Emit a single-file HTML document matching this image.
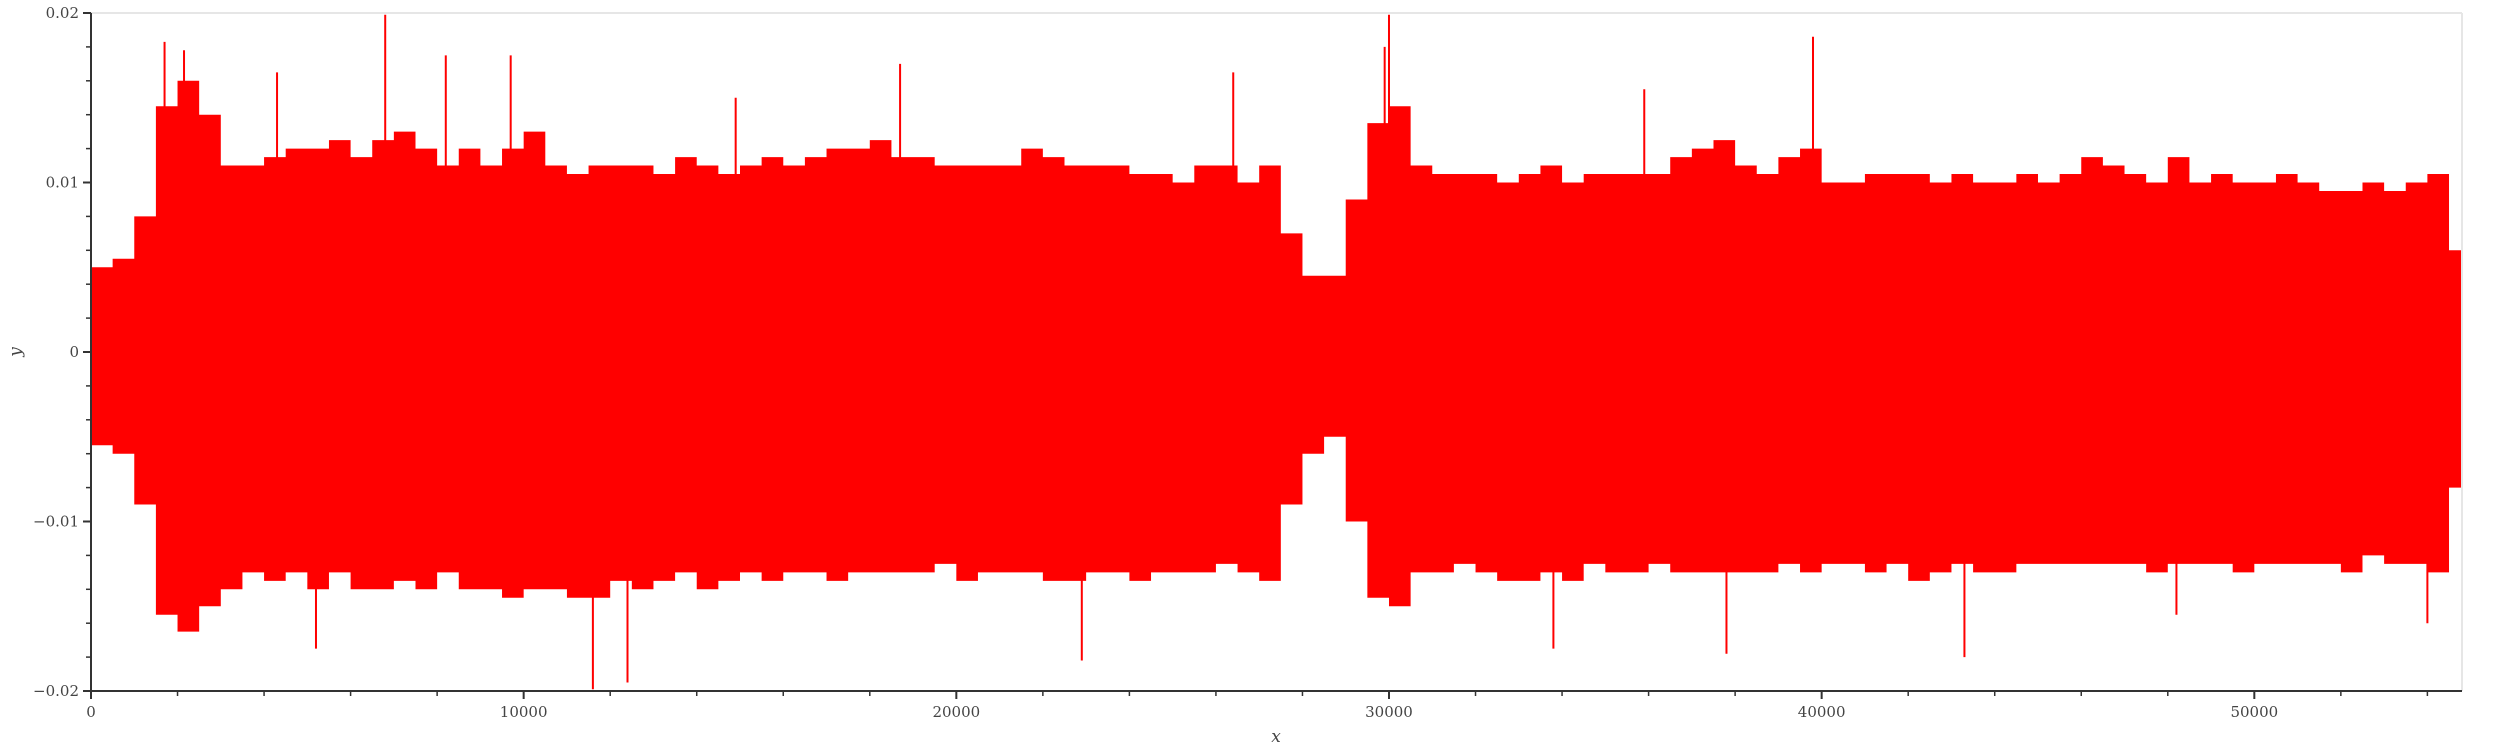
<!DOCTYPE html>
<html><head><meta charset="utf-8">
<style>
html,body{margin:0;padding:0;background:#fff;}
svg{display:block;}
text{font-family:"DejaVu Serif","Liberation Serif",serif;fill:#444;}
</style></head>
<body>
<svg id="chart" width="2500" height="750" viewBox="0 0 2500 750" xmlns="http://www.w3.org/2000/svg">
<g id="plot"></g>
<g id="axes"></g>
</svg>
<script>
// envelope per 500-sample bin (units of 0.001)
const binStart = 0;
const binWidth = 500;
const upperEnv = [5,5.5,8,14.5,16,14,11,11,11.5,12,12,12.5,11.5,12.5,13,12,11,12,11,12,13,11,10.5,11,11,11,10.5,11.5,11,10.5,11,11.5,11,11.5,12,12,12.5,11.5,11.5,11,11,11,11,12,11.5,11,11,11,10.5,10.5,10,11,11,10,11,7,4.5,4.5,9,13.5,14.5,11,10.5,10.5,10.5,10,10.5,11,10,10.5,10.5,10.5,10.5,11.5,12,12.5,11,10.5,11.5,12,10,10,10.5,10.5,10.5,10,10.5,10,10,10.5,10,10.5,11.5,11,10.5,10,11.5,10,10.5,10,10,10.5,10,9.5,9.5,10,9.5,10,10.5,6];
const lowerEnv = [-5.5,-6,-9,-15.5,-16.5,-15,-14,-13,-13.5,-13,-14,-13,-14,-14,-13.5,-14,-13,-14,-14,-14.5,-14,-14,-14.5,-14.5,-13.5,-14,-13.5,-13,-14,-13.5,-13,-13.5,-13,-13,-13.5,-13,-13,-13,-13,-12.5,-13.5,-13,-13,-13,-13.5,-13.5,-13,-13,-13.5,-13,-13,-13,-12.5,-13,-13.5,-9,-6,-5,-10,-14.5,-15,-13,-13,-12.5,-13,-13.5,-13.5,-13,-13.5,-12.5,-13,-13,-12.5,-13,-13,-13,-13,-13,-12.5,-13,-12.5,-12.5,-13,-12.5,-13.5,-13,-12.5,-13,-13,-12.5,-12.5,-12.5,-12.5,-12.5,-12.5,-13,-12.5,-12.5,-12.5,-13,-12.5,-12.5,-12.5,-12.5,-13,-12,-12.5,-12.5,-13,-8];
// notable spikes
const spikeX = [1700,2150,4300,5200,6800,8200,9700,11600,12400,14900,18700,22900,26400,29900,30000,33800,35900,37800,39800,43300,48200,54000];
const spikeY = [18.3,17.8,16.5,-17.5,19.9,17.5,17.5,-19.9,-19.5,15,17,-18.2,16.5,18,19.9,-17.5,15.5,-17.8,18.6,-18,-15.5,-16];
const yTicks = [0.02,0.01,0,-0.01,-0.02];
const yTickLabels = ["0.02","0.01","0","\u22120.01","\u22120.02"];
const xTicks = [0,10000,20000,30000,40000,50000];
const xTickLabels = ["0","10000","20000","30000","40000","50000"];

const L=91,R=2462,T=13,B=691,XMAX=54800;
const sx=v=>L+(v/XMAX)*(R-L);
const sy=v=>T+(0.02-v)/0.04*(B-T);
const NS="http://www.w3.org/2000/svg";
function mk(tag,attrs,parent){const e=document.createElementNS(NS,tag);for(const k in attrs)e.setAttribute(k,attrs[k]);parent.appendChild(e);return e;}
const plot=document.getElementById('plot'),axes=document.getElementById('axes');

let pts=[];
for(let i=0;i<upperEnv.length;i++){const x0=binStart+i*binWidth,x1=Math.min(XMAX,x0+binWidth);pts.push(sx(x0)+','+sy(upperEnv[i]/1000));pts.push(sx(x1)+','+sy(upperEnv[i]/1000));}
for(let i=lowerEnv.length-1;i>=0;i--){const x0=binStart+i*binWidth,x1=Math.min(XMAX,x0+binWidth);pts.push(sx(x1)+','+sy(lowerEnv[i]/1000));pts.push(sx(x0)+','+sy(lowerEnv[i]/1000));}
const poly=mk('polygon',{points:pts.join(' '),fill:'#ff0000'},plot);


for(let i=0;i<spikeX.length;i++){
  const ln=mk('line',{x1:sx(spikeX[i]),x2:sx(spikeX[i]),y1:sy(0),y2:sy(spikeY[i]/1000),stroke:'#ff0000','stroke-width':2},plot);
  
  
}

mk('line',{x1:L,x2:R,y1:T,y2:T,stroke:'#e6e6e6','stroke-width':2},axes);
mk('line',{x1:R,x2:R,y1:T,y2:B,stroke:'#e6e6e6','stroke-width':2},axes);
const ya=mk('line',{x1:L,x2:L,y1:T,y2:B+1,stroke:'#333','stroke-width':2},axes);


const xa=mk('line',{x1:L-1,x2:R,y1:B,y2:B,stroke:'#333','stroke-width':2},axes);


for(let k=-10;k<=10;k++){const v=k*0.002;const maj=k%5===0;mk('line',{x1:L-(maj?8:5),x2:L,y1:sy(v),y2:sy(v),stroke:'#333','stroke-width':maj?2:1.5},axes);}
for(let i=0;i<yTicks.length;i++){const t=mk('text',{x:L-12,y:sy(yTicks[i])+5,'text-anchor':'end','font-size':15},axes);t.textContent=yTickLabels[i];

}
for(let v=0;v<=XMAX;v+=2000){const maj=v%10000===0;mk('line',{x1:sx(v),x2:sx(v),y1:B,y2:B+(maj?8:5),stroke:'#333','stroke-width':maj?2:1.5},axes);}
for(let i=0;i<xTicks.length;i++){const t=mk('text',{x:sx(xTicks[i]),y:B+26,'text-anchor':'middle','font-size':15},axes);t.textContent=xTickLabels[i];

}
const xt=mk('text',{x:1276,y:742,'text-anchor':'middle','font-size':17,'font-style':'italic'},axes);xt.textContent='x';


const yt=mk('text',{x:0,y:0,'text-anchor':'middle','font-size':17,'font-style':'italic',transform:'translate(21,352) rotate(-90)'},axes);yt.textContent='y';


</script>
</body></html>
